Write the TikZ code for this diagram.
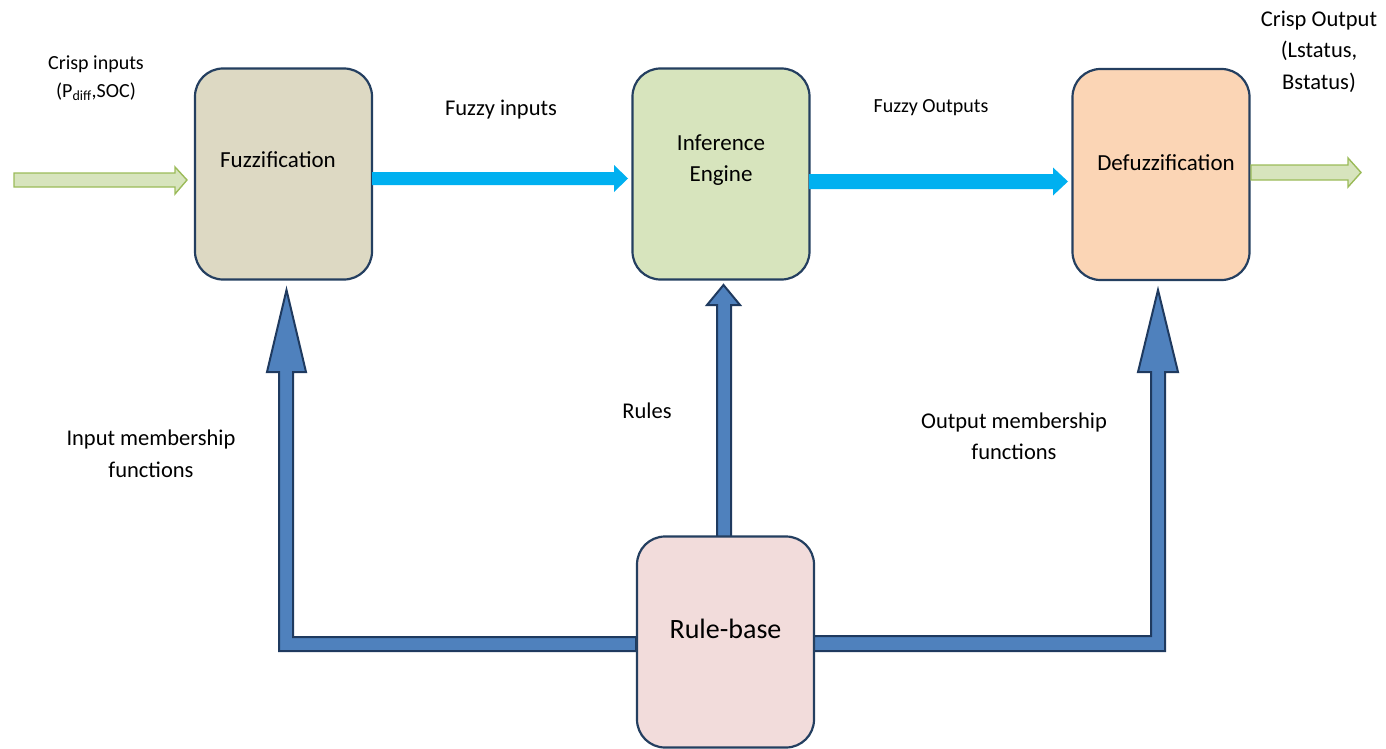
\documentclass[tikz,border=0pt]{standalone}
\usepackage{fontspec}
\setmainfont{Carlito}
\usetikzlibrary{calc}
\definecolor{boxline}{HTML}{243F60}
\definecolor{fuzzfill}{HTML}{DDD9C3}
\definecolor{inffill}{HTML}{D7E4BD}
\definecolor{defuzzfill}{HTML}{FBD5B5}
\definecolor{rulefill}{HTML}{F2DCDB}
\definecolor{greenfill}{HTML}{D7E4BD}
\definecolor{greenline}{HTML}{9BBB59}
\definecolor{flowblue}{HTML}{00B0F0}
\definecolor{bigfill}{HTML}{4F81BD}
\definecolor{bigline}{HTML}{1F3A5F}
\begin{document}
\begin{tikzpicture}[x=1pt,y=-1pt,
  block/.style={draw=boxline,line width=2.2pt,rounded corners=28pt,
    minimum width=177pt,minimum height=211pt,inner sep=0pt},
  lbl/.style={inner sep=0pt,align=center,font=\fontsize{22.5}{31.5}\selectfont},
  crisparrow/.style={fill=greenfill,draw=greenline,line width=1.4pt},
  fuzzyarrow/.style={fill=flowblue},
  basearrow/.style={fill=bigfill,draw=bigline,line width=2pt,line join=miter}]
\useasboundingbox (0,0) rectangle (1386,749);

% processing blocks
\node[block,fill=fuzzfill] (fz) at (283.5,174) {};
\node[block,fill=inffill] (ie) at (721,174) {};
\node[block,fill=defuzzfill] (dz) at (1161,174.5) {};

% block arrows fed by the rule base (drawn below the rule-base box)
\draw[basearrow] (636,637) -- (293,637) -- (293,372) -- (306,372) -- (286.5,290)
  -- (267,372) -- (279,372) -- (279,651) -- (636,651) -- cycle;
\draw[basearrow] (731,538) -- (731,305) -- (740,305) -- (723.5,285) -- (707,305)
  -- (717,305) -- (717,538) -- cycle;
\draw[basearrow] (813,636) -- (1151,636) -- (1151,372) -- (1138,372) -- (1158,290)
  -- (1178,372) -- (1165,372) -- (1165,651) -- (813,651) -- cycle;

\node[block,fill=rulefill] (rb) at (725.5,642) {};

% labels inside the blocks
\node[lbl,font=\fontsize{23}{23}\selectfont] (fzt) at (278,160) {Fuzzification};
\node[lbl,font=\fontsize{23}{31}\selectfont] (iet) at (721,160.5) {Inference\\Engine};
\node[lbl,font=\fontsize{23}{23}\selectfont] (dzt) at (1166,163) {Defuzzification};
\node[lbl,font=\fontsize{28}{28}\selectfont] (rbt) at (725.5,629) {Rule-base};

% crisp input / output arrows
\draw[crisparrow] (14,173) -- (175,173) -- (175,167) -- (187,180) -- (175,194)
  -- (175,187) -- (14,187) -- cycle;
\draw[crisparrow] (1251,165) -- (1348,165) -- (1348,158) -- (1361,172.5) -- (1348,187)
  -- (1348,180) -- (1251,180) -- cycle;

% fuzzy flow arrows
\fill[fuzzyarrow] (372,172) -- (614,172) -- (614,165)
  -- (628,178.5) -- (614,192) -- (614,185) -- (372,185) -- cycle;
\fill[fuzzyarrow] (809,174) -- (1053,174) -- (1053,167.5)
  -- (1068,181.5) -- (1053,195.5) -- (1053,189) -- (809,189) -- cycle;

% free-standing labels
\node[lbl,font=\fontsize{20}{28}\selectfont] (ci) at (96,78) {Crisp inputs\\(P\textsubscript{diff},SOC)};
\node[lbl] (fi) at (501,110) {Fuzzy inputs};
\node[lbl,font=\fontsize{20}{20}\selectfont] (fo) at (931,108) {Fuzzy Outputs};
\node[lbl] (co) at (1319,51.5) {Crisp Output\\(Lstatus,\\Bstatus)};
\node[lbl] (ru) at (647,411) {Rules};
\node[lbl] (im) at (151,454) {Input membership\\functions};
\node[lbl] (om) at (1014,436.5) {Output membership\\functions};
\end{tikzpicture}
\end{document}
